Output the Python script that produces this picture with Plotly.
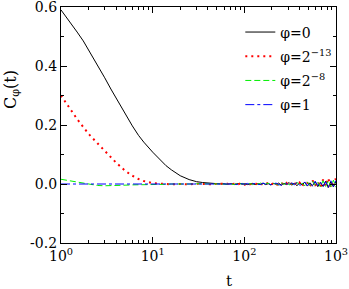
import plotly.graph_objects as go

# time points: early decay region + noisy tail
t_early = [1, 1.25, 1.5, 1.75, 2, 2.5, 3, 3.5, 4, 5, 6, 7, 8, 10, 12, 14, 16, 20, 25, 30, 35]
t_tail = [40, 43, 46, 49, 52, 56, 60, 64, 68, 73, 78, 83, 89, 95, 101, 108, 115, 123, 131, 140,
          150, 160, 171, 182, 195, 208, 222, 237, 253, 270, 288, 308, 329, 351, 375, 400, 427, 456,
          487, 520, 555, 593, 633, 676, 722, 771, 823, 879, 938, 1000]
t = t_early + t_tail

phi0_early = [0.59, 0.55, 0.515, 0.485, 0.455, 0.405, 0.36, 0.322, 0.29, 0.238, 0.197, 0.165, 0.142,
              0.108, 0.082, 0.062, 0.048, 0.028, 0.015, 0.008, 0.005]
phi0_tail = [0.003, 0.002, 0.002, 0.001, 0.001, 0.000, 0.001, -0.001, 0.000, 0.001, -0.001, 0.000, 0.002,
             -0.001, 0.001, -0.002, 0.000, 0.002, -0.002, 0.001, -0.001, 0.003, -0.002, 0.001, -0.003,
             0.002, -0.001, 0.003, -0.004, 0.002, -0.002, 0.005, -0.004, 0.003, -0.006, 0.004, -0.003,
             0.006, -0.007, 0.004, -0.005, 0.008, -0.009, 0.005, -0.008, 0.010, -0.012, 0.007, -0.010, 0.009]

phi13_early = [0.30, 0.255, 0.22, 0.193, 0.17, 0.138, 0.112, 0.09, 0.072, 0.045, 0.028, 0.017, 0.01,
               0.003, 0.001, 0.000, -0.001, 0.000, -0.001, 0.001, 0.000]
phi13_tail = [0.000, -0.001, 0.001, 0.000, -0.001, 0.001, 0.000, 0.002, -0.001, 0.000, 0.001, -0.002, 0.001,
              0.000, -0.002, 0.002, -0.001, 0.001, 0.003, -0.002, 0.002, -0.003, 0.001, 0.004, -0.002,
              0.003, -0.004, 0.002, 0.005, -0.003, 0.004, -0.006, 0.003, 0.007, -0.004, 0.005, -0.008,
              0.006, 0.004, -0.009, 0.012, -0.006, 0.008, -0.011, 0.015, -0.007, 0.020, -0.013, 0.010, 0.018]

phi8_early = [0.016, 0.011, 0.006, 0.002, -0.002, -0.005, -0.006, -0.006, -0.005, -0.004, -0.003, -0.003,
              -0.002, -0.002, -0.001, -0.001, 0.000, -0.001, 0.000, 0.001, 0.000]
phi8_tail = [0.000, 0.001, -0.001, 0.000, 0.001, -0.001, 0.000, -0.001, 0.002, 0.000, -0.002, 0.001, 0.000,
             0.002, -0.001, 0.000, 0.002, -0.002, 0.001, -0.001, 0.003, -0.002, 0.000, 0.003, -0.003,
             0.002, 0.001, -0.004, 0.004, -0.002, 0.005, -0.003, 0.002, -0.005, 0.006, -0.004, 0.003,
             -0.006, 0.007, -0.005, 0.009, -0.004, 0.006, -0.010, 0.011, -0.008, 0.012, -0.009, 0.013, -0.011]

phi1_early = [0.000, 0.000, 0.000, -0.001, 0.000, 0.000, -0.001, 0.000, 0.000, 0.000, 0.001, 0.000, 0.000,
              -0.001, 0.000, 0.000, 0.001, 0.000, 0.000, -0.001, 0.000]
phi1_tail = [0.000, 0.000, -0.001, 0.001, 0.000, -0.001, 0.001, 0.000, -0.001, 0.001, 0.000, -0.002, 0.001,
             0.001, -0.001, 0.002, -0.002, 0.000, 0.002, -0.001, -0.002, 0.003, -0.001, 0.002, -0.003,
             0.001, 0.003, -0.002, -0.004, 0.003, 0.002, -0.005, 0.004, -0.003, 0.006, -0.004, -0.002,
             0.007, -0.006, 0.005, -0.008, 0.009, -0.005, 0.007, -0.010, 0.008, -0.012, 0.011, -0.009, 0.012]

series_names = ["φ=0", "φ=2<sup>−13</sup>", "φ=2<sup>−8</sup>", "φ=1"]
series_values = [phi0_early + phi0_tail, phi13_early + phi13_tail,
                 phi8_early + phi8_tail, phi1_early + phi1_tail]
colors = ["#000000", "#ff0000", "#00ee00", "#0000ff"]
dashes = ["solid", "2px,4px", "6px,3px", "dashdot"]
widths = [1.0, 2.0, 1.0, 1.0]

x_tickvals = [1, 10, 100, 1000]
x_ticktext = ["10<sup>0</sup>", "10<sup>1</sup>", "10<sup>2</sup>", "10<sup>3</sup>"]
x_minor = [m * 10 ** d for d in range(3) for m in range(2, 10)]
y_tickvals = [-0.2, 0.0, 0.2, 0.4, 0.6]
y_ticktext = ["-0.2", "0.0", "0.2", "0.4", "0.6"]
y_minor = [-0.1, 0.1, 0.3, 0.5]

fig = go.Figure()
for i, (name, vals, c, d, w) in enumerate(zip(series_names, series_values, colors, dashes, widths)):
    fig.add_trace(go.Scatter(x=t, y=vals, mode="lines", name=name, legendgroup=str(i),
                             line=dict(color=c, dash=d, width=w)))

FAM = "DejaVu Serif"
fig.update_layout(
    width=349, height=289,
    margin=dict(l=61, r=13, t=7, b=46),
    plot_bgcolor="white", paper_bgcolor="white",
    font=dict(family=FAM, size=14, color="black"),
    showlegend=True,
    legend=dict(x=0.652, y=0.96, xanchor="left", yanchor="top",
                bgcolor="rgba(0,0,0,0)", font=dict(family=FAM, size=14, color="black"),
                itemwidth=30, traceorder="grouped", tracegroupgap=3),
    annotations=[
        dict(text="t", xref="paper", yref="paper", x=0.611, y=-0.16,
             xanchor="center", yanchor="middle", showarrow=False,
             font=dict(family=FAM, size=15, color="black")),
        dict(text="C<sub>φ</sub>(t)", xref="paper", yref="paper", x=-0.18, y=0.65,
             xanchor="center", yanchor="middle", showarrow=False, textangle=-90,
             font=dict(family=FAM, size=16, color="black")),
    ],
)
fig.update_xaxes(
    type="log", range=[0, 3], automargin=False, ticklabeloverflow="allow",
    tickmode="array", tickvals=x_tickvals, ticktext=x_ticktext,
    ticks="inside", ticklen=6, tickcolor="black", tickwidth=1,
    minor=dict(tickmode="array", tickvals=x_minor, ticks="inside", ticklen=3, tickcolor="black"),
    showgrid=False, zeroline=False,
    showline=True, linecolor="black", linewidth=1.2, mirror="ticks",
    tickfont=dict(family=FAM, size=14, color="black"),
)
fig.update_yaxes(
    range=[-0.2, 0.6], automargin=False, ticklabeloverflow="allow",
    tickmode="array", tickvals=y_tickvals, ticktext=y_ticktext,
    ticks="inside", ticklen=6, tickcolor="black", tickwidth=1,
    minor=dict(tickmode="array", tickvals=y_minor, ticks="inside", ticklen=3, tickcolor="black"),
    showgrid=False, zeroline=False,
    showline=True, linecolor="black", linewidth=1.2, mirror="ticks",
    tickfont=dict(family=FAM, size=14, color="black"),
)

fig.write_html("out.html", config={"displayModeBar": False},
               post_script="document.body.style.margin='0';document.body.style.padding='0';")
